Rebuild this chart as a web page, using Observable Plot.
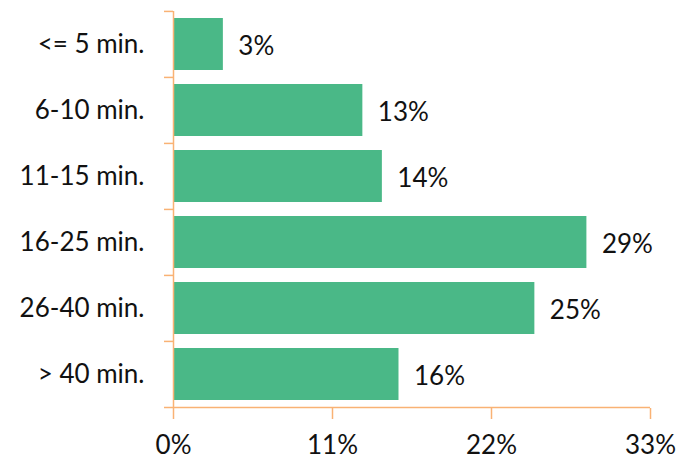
<!DOCTYPE html>
<html>
<head>
<meta charset="utf-8">
<script src="https://cdn.jsdelivr.net/npm/d3@7"></script>
<script src="https://cdn.jsdelivr.net/npm/@observablehq/plot@0.6"></script>
<style>
  html, body { margin: 0; padding: 0; background: #fff; }
  #chart svg { display: block; }
</style>
</head>
<body>
<div id="chart"></div>
<script>
const categories = ["<= 5 min.", "6-10 min.", "11-15 min.", "16-25 min.", "26-40 min.", "> 40 min."];
const values = [3.45, 13.1, 14.45, 28.6, 25.0, 15.6];
const labels = ["3%", "13%", "14%", "29%", "25%", "16%"];
const xTicks = [0, 11, 22, 33];
const xTickLabels = ["0%", "11%", "22%", "33%"];

const data = categories.map((c, i) => ({cat: c, value: values[i], label: labels[i]}));

const W = 682, H = 460;
const mTop = 11, mBottom = 52, mLeft = 173, mRight = 32;
const step = (H - mTop - mBottom) / categories.length;
const axisColor = "#F9B274";
const barColor = "#4AB887";
const font = "Lato, 'Open Sans', sans-serif";
const fs = 26;
const tickLen = 9 / ((W - mLeft - mRight) / 33);

const chart = Plot.plot({
  width: W,
  height: H,
  marginTop: mTop,
  marginBottom: mBottom,
  marginLeft: mLeft,
  marginRight: mRight,
  style: {fontFamily: font, fontSize: fs + "px", color: "#111", background: "#fff"},
  x: {domain: [0, 33]},
  y: {domain: categories, paddingInner: 0.21, paddingOuter: 0.105},
  marks: [
    Plot.barX(data, {y: "cat", x: "value", fill: barColor}),
    Plot.text(data, {y: "cat", x: "value", text: "label", textAnchor: "start", dx: 15, dy: 2, fontSize: fs, fill: "#111"}),
    Plot.ruleX([0], {stroke: axisColor, strokeWidth: 1.5}),
    Plot.ruleY(categories, {y: d => d, x1: -tickLen, x2: 0, dy: -step / 2, stroke: axisColor, strokeWidth: 1.5}),
    Plot.ruleY([categories[categories.length - 1]], {y: d => d, x1: -tickLen, x2: 33, dy: step / 2, stroke: axisColor, strokeWidth: 1.5}),
    Plot.axisY({tickSize: 0, tickPadding: 29, fontSize: fs, label: null}),
    Plot.axisX({ticks: xTicks, tickFormat: (d, i) => xTickLabels[i], tickSize: 11, tickPadding: 16, stroke: axisColor, strokeWidth: 1.5, fontSize: fs, label: null, color: "#111"})
  ]
});
document.getElementById("chart").appendChild(chart);
</script>
</body>
</html>
